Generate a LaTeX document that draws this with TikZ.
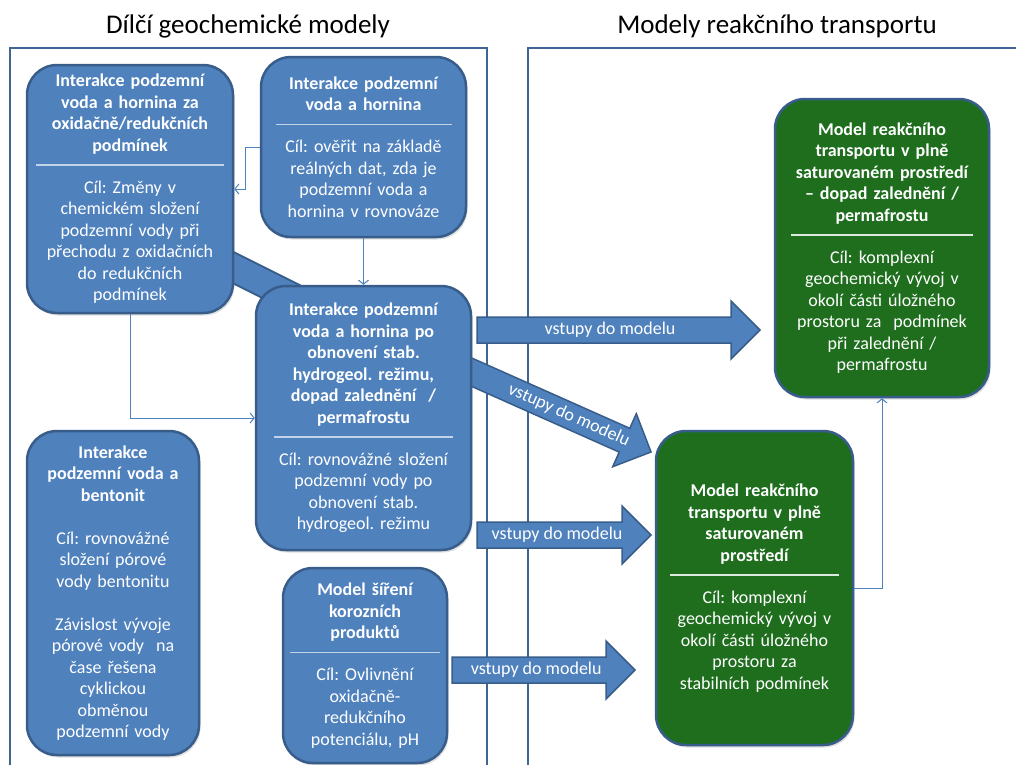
\documentclass[tikz,border=0pt]{standalone}
\usepackage{fontspec}
\setmainfont{Carlito}
\usetikzlibrary{arrows.meta,calc,shadows}
\frenchspacing

\definecolor{boxblue}{RGB}{79,129,189}
\definecolor{boxedge}{RGB}{56,93,138}
\definecolor{boxgreen}{RGB}{30,110,30}
\definecolor{panelline}{RGB}{63,101,151}

% bold heading, thin separator, then the aim of the model
\newcommand{\modeltext}[3][white!65!boxblue]{{\bfseries #2}\par\vspace{-7pt}\noindent{\color{#1}\rule{\hsize}{1.5pt}}\par\vspace{6pt}#3}

% block arrow from #1 to #2, label at pos #3
\newcommand{\inputarrow}[4]{%
  \coordinate (hb#1) at ($(#2)!29pt!(#1)$);
  \draw[inarrow] ($(#1)!13pt!90:(#2)$) -- ($(hb#1)!13pt!90:(#2)$) -- ($(hb#1)!29pt!90:(#2)$) -- (#2)
    -- ($(hb#1)!29pt!-90:(#2)$) -- ($(hb#1)!13pt!-90:(#2)$) -- ($(#1)!13pt!-90:(#2)$) -- cycle;
  \path (#1) -- (#2) node (lbl#1) [pos=#3, sloped, arrowlabel] {#4};
}

\begin{document}
\begin{tikzpicture}[x=1pt,y=-1pt,
   model/.style={rectangle, rounded corners=30pt, draw=boxedge, line width=2.5pt, fill=boxblue,
     text=white, align=center, font=\fontsize{18}{21.5}\selectfont,
     drop shadow={shadow xshift=1.5pt, shadow yshift=-2.5pt, opacity=0.25}},
   rtmodel/.style={model, fill=boxgreen},
   panel/.style={draw=panelline, line width=2.5pt},
   band/.style={draw=boxedge, line width=2pt, double=boxblue, double distance=26pt},
   inarrow/.style={fill=boxblue, draw=boxedge, line width=1.5pt, line join=miter},
   arrowlabel/.style={text=white, font=\fontsize{18}{20}\selectfont},
   link/.style={draw=boxblue, line width=1pt, -{Straight Barb[length=4pt,width=10pt]}},
   heading/.style={font=\fontsize{27}{32}\selectfont}]
   \useasboundingbox (0,0) rectangle (1016,764);
   \clip (0,0) rectangle (1016,764);

   \node (lefthead) at (248,26) [heading] {Dílčí geochemické modely};
   \node (righthead) at (777,26) [heading] {Modely reakčního transportu};

   \draw[panel] (10,48) rectangle (487,790);
   \draw[panel] (528,48) rectangle (1040,790);

   % band behind the two boxes
   \coordinate (bandA) at (180,241);
   \coordinate (bandC) at (330,316);
   \draw[band] (bandA) -- (bandC);

   % inputs into the transport models
   \coordinate (in1a) at (477,330);
   \coordinate (in1b) at (760,330);
   \coordinate (in2a) at (460,367);
   \coordinate (in2b) at (651,452);
   \coordinate (in3a) at (477,535);
   \coordinate (in3b) at (651,535);
   \coordinate (in4a) at (452,670);
   \coordinate (in4b) at (635,670);
   \inputarrow{in1a}{in1b}{0.47}{vstupy do modelu}
   \inputarrow{in2a}{in2b}{0.57}{vstupy do modelu}
   \inputarrow{in3a}{in3b}{0.46}{vstupy do modelu}
   \inputarrow{in4a}{in4b}{0.46}{vstupy do modelu}

   \node (ox) at (130,189) [model, minimum width=206pt, minimum height=248pt, text width=188pt]
     {\modeltext{Interakce podzemní\\ voda a hornina za\\ oxidačně/redukčních\\ podmínek}
      {Cíl: Změny v\\ chemickém složení\\ podzemní vody při\\ přechodu z oxidačních\\ do redukčních\\ podmínek}};
   \node (eq) at (363.5,147) [model, minimum width=205pt, minimum height=180pt, text width=176pt]
     {\modeltext{Interakce podzemní\\ voda a hornina}
      {Cíl: ověřit na základě\\ reálných dat, zda je\\ podzemní voda a\\ hornina v rovnováze}};
   \node (stab) at (363.5,418) [model, minimum width=215pt, minimum height=264pt, text width=179pt]
     {\modeltext{Interakce podzemní\\ voda a hornina po\\ obnovení stab.\\ hydrogeol. režimu,\\ dopad zalednění\ \ /\\ permafrostu}
      {Cíl: rovnovážné složení\\ podzemní vody po\\ obnovení stab.\\ hydrogeol. režimu}};
   \node (bent) at (113,593) [model, minimum width=172pt, minimum height=324pt, text width=150pt]
     {{\bfseries Interakce\\ podzemní voda a\\ bentonit}\par\vspace{21.5pt}
      Cíl: rovnovážné\\ složení pórové\\ vody bentonitu\par\vspace{21.5pt}
      Závislost vývoje\\ pórové vody\ \ na\\ čase řešena\\ cyklickou\\ obměnou\\ podzemní vody};
   \node (koroz) at (365,665.5) [model, minimum width=164pt, minimum height=195pt, text width=150pt]
     {\modeltext{Model šíření\\ korozních\\ produktů}
      {Cíl: Ovlivnění\\ oxidačně-\\ redukčního\\ potenciálu, pH}};
   \node (rtperm) at (882,248) [rtmodel, minimum width=214pt, minimum height=298pt, text width=182pt]
     {\modeltext[white!85!boxgreen]{Model reakčního\\ transportu v plně\\ saturovaném prostředí\\ – dopad zalednění /\\ permafrostu}
      {Cíl: komplexní\\ geochemický vývoj v\\ okolí části úložného\\ prostoru za\ \ podmínek\\ při zalednění /\\ permafrostu}};
   \node (rtstab) at (754.5,588) [rtmodel, minimum width=197pt, minimum height=314pt, text width=169pt]
     {\modeltext[white!85!boxgreen]{Model reakčního\\ transportu v plně\\ saturovaném\\ prostředí}
      {Cíl: komplexní\\ geochemický vývoj v\\ okolí části úložného\\ prostoru za\\ stabilních podmínek}};

   \draw[link] (eq.west) -- ++(-14,0) |- (ox.east);
   \draw[link] (eq.south) -- (stab.north);
   \draw[link] (ox.south) |- (stab.west);
   \draw[link] (rtstab.east) -| (rtperm.south);
\end{tikzpicture}
\end{document}
